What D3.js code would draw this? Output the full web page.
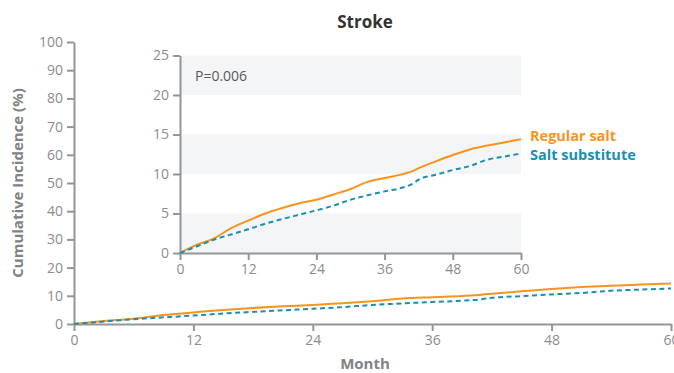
<!DOCTYPE html>
<html>
<head>
<meta charset="utf-8">
<script src="https://cdn.jsdelivr.net/npm/d3@7"></script>
<style>
  html, body { margin: 0; padding: 0; background: #fff; }
  svg { display: block; font-family: "Open Sans", "Noto Sans", sans-serif; }
  .tick text { font-family: "Liberation Sans Narrow", "Open Sans", sans-serif; font-size: 14px; fill: #8a8c8f; }
  .axis path, .axis line { stroke: #939598; stroke-width: 2; }
</style>
</head>
<body>
<div id="chart"></div>
<script>
// 时间点（月）与两组累积发生率（%）
const months      = [0, 3, 6, 9, 12, 15, 18, 21, 24, 27, 30, 33, 36, 39, 41, 42, 45, 48, 51, 54, 57, 60];
const regularSalt = [0, 1.05, 1.85, 3.15, 4.1, 5.0, 5.7, 6.3, 6.75, 7.4, 8.1, 9.0, 9.5, 9.95, 10.4, 10.75, 11.6, 12.4, 13.1, 13.6, 14.0, 14.4];
const saltSubst   = [0, 0.85, 1.7, 2.35, 3.0, 3.7, 4.3, 4.85, 5.4, 6.0, 6.75, 7.3, 7.8, 8.25, 8.8, 9.3, 9.9, 10.5, 11.0, 11.8, 12.2, 12.6];
const xTicks      = [0, 12, 24, 36, 48, 60];
const mainYTicks  = [0, 10, 20, 30, 40, 50, 60, 70, 80, 90, 100];
const insetYTicks = [0, 5, 10, 15, 20, 25];
const insetBands  = [[0, 5], [10, 15], [20, 25]];

const W = 674, H = 373;
const ORANGE = "#F7941D", TEAL = "#1A8FB2";

const svg = d3.select("#chart").append("svg").attr("width", W).attr("height", H);

const seriesOf = (vals) => months.map((m, i) => [m, vals[i]]);
const series = [
  { name: "Regular salt", color: ORANGE, dash: null, pts: seriesOf(regularSalt) },
  { name: "Salt substitute", color: TEAL, dash: "5 3.5", pts: seriesOf(saltSubst) }
];

// ---- 主图 ----
const x = d3.scaleLinear().domain([0, 60]).range([74, 671]);
const y = d3.scaleLinear().domain([0, 100]).range([324, 42]);

svg.append("g").attr("class", "axis").attr("transform", "translate(0,324)")
  .call(d3.axisBottom(x).tickValues(xTicks).tickSizeInner(7).tickSizeOuter(0).tickPadding(4));
svg.append("g").attr("class", "axis").attr("transform", "translate(74,0)")
  .call(d3.axisLeft(y).tickValues(mainYTicks).tickSizeInner(7).tickSizeOuter(0).tickPadding(4));

const line = (sx, sy) => d3.line().x((d) => sx(d[0])).y((d) => sy(d[1])).curve(d3.curveMonotoneX);

series.forEach((s) => {
  svg.append("path").datum(s.pts).attr("d", line(x, y))
    .attr("fill", "none").attr("stroke", s.color).attr("stroke-width", 2)
    .attr("stroke-dasharray", s.dash);
});

// ---- 放大插图 ----
const xi = d3.scaleLinear().domain([0, 60]).range([180, 521]);
const yi = d3.scaleLinear().domain([0, 25]).range([253, 55.5]);

svg.selectAll("rect.band").data(insetBands).join("rect").attr("class", "band")
  .attr("x", xi(0)).attr("width", xi(60) - xi(0))
  .attr("y", (b) => yi(b[1])).attr("height", (b) => yi(b[0]) - yi(b[1]))
  .attr("fill", "#f4f5f7");

svg.append("g").attr("class", "axis").attr("transform", "translate(0,253)")
  .call(d3.axisBottom(xi).tickValues(xTicks).tickSizeInner(7).tickSizeOuter(0).tickPadding(4));
svg.append("g").attr("class", "axis").attr("transform", "translate(180,0)")
  .call(d3.axisLeft(yi).tickValues(insetYTicks).tickSizeInner(7).tickSizeOuter(0).tickPadding(4));

series.forEach((s) => {
  svg.append("path").datum(s.pts).attr("d", line(xi, yi))
    .attr("fill", "none").attr("stroke", s.color).attr("stroke-width", 2)
    .attr("stroke-dasharray", s.dash);
});

svg.append("text").attr("x", 195).attr("y", 81).attr("fill", "#58595b")
  .style("font-size", "14px").text("P=0.006");

// 图例（曲线末端标签）
series.forEach((s, i) => {
  svg.append("text").attr("x", 530).attr("y", 141 + i * 19).attr("fill", s.color)
    .style("font-size", "14.5px").style("font-weight", "bold").text(s.name);
});

// ---- 标题与轴标题 ----
svg.append("text").attr("x", 365).attr("y", 28).attr("text-anchor", "middle")
  .attr("fill", "#333").style("font-size", "17px").style("font-weight", "bold").text("Stroke");
svg.append("text").attr("x", 365).attr("y", 369).attr("text-anchor", "middle")
  .attr("fill", "#808285").style("font-size", "15px").style("font-weight", "bold").text("Month");
svg.append("text").attr("transform", "translate(23,183) rotate(-90)").attr("text-anchor", "middle")
  .attr("fill", "#808285").style("font-size", "15px").style("font-weight", "bold")
  .text("Cumulative Incidence (%)");
</script>
</body>
</html>
